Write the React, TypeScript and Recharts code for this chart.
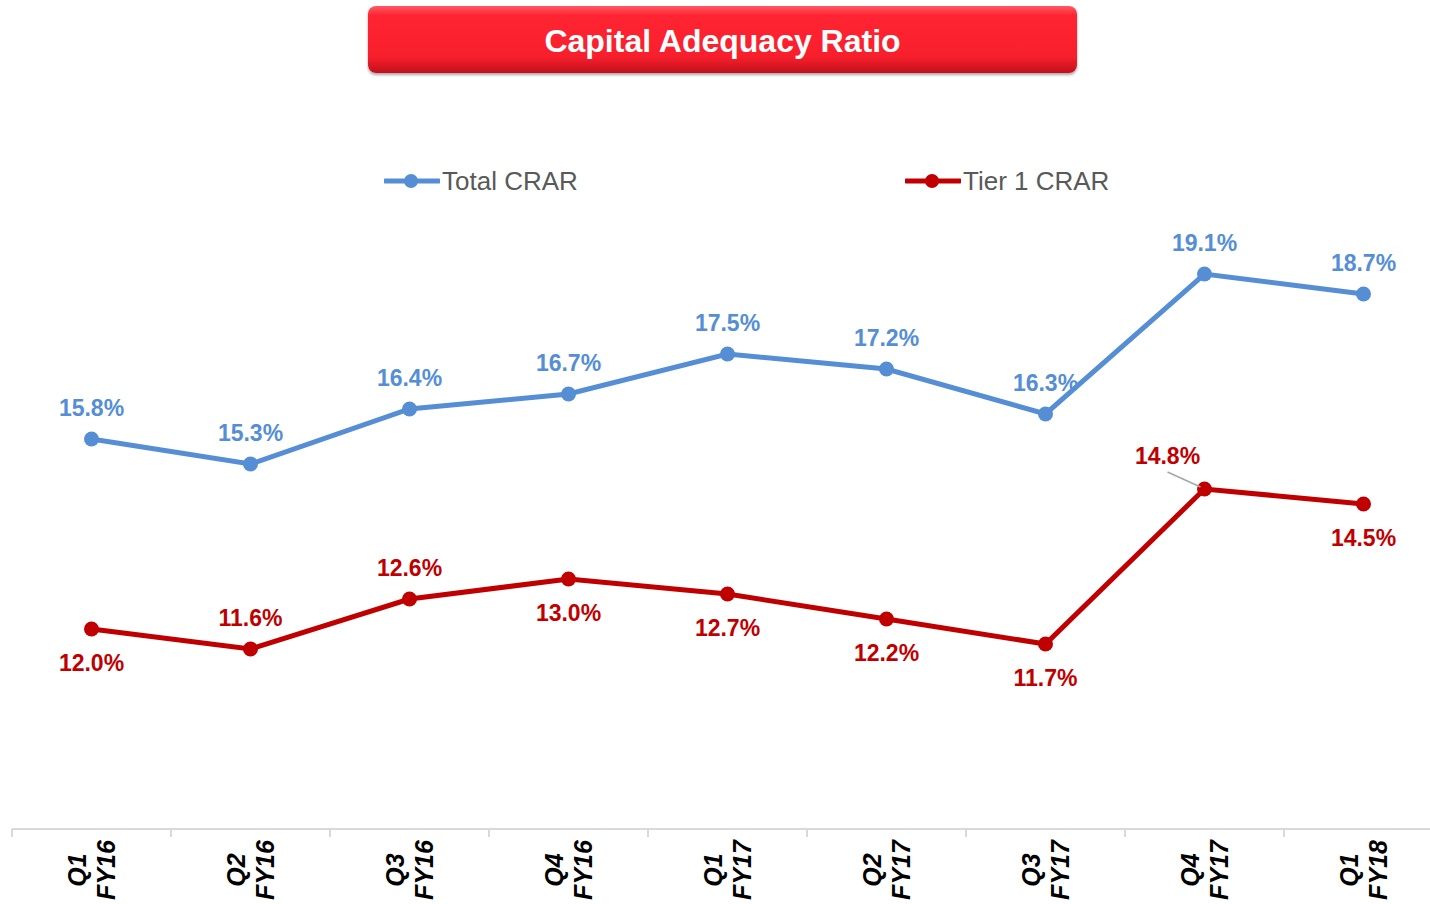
import { LineChart, Line, XAxis, YAxis, Legend, LabelList } from "recharts";

const quarters = ["Q1 FY16", "Q2 FY16", "Q3 FY16", "Q4 FY16", "Q1 FY17", "Q2 FY17", "Q3 FY17", "Q4 FY17", "Q1 FY18"];
const totalCrar = [15.8, 15.3, 16.4, 16.7, 17.5, 17.2, 16.3, 19.1, 18.7];
const tier1Crar = [12.0, 11.6, 12.6, 13.0, 12.7, 12.2, 11.7, 14.8, 14.5];
// where each Tier 1 label sits relative to its point
const tier1LabelPos = ["below", "above", "above", "below", "below", "below", "below", "aboveLeft", "below"];
const seriesNames = ["Total CRAR", "Tier 1 CRAR"];

const BLUE = "#558ED5";
const RED = "#C00000";
const FONT = '"Liberation Sans", Arial, sans-serif';
const HALF_BAND = 79.5;

const data = quarters.map((q, i) => ({ name: q, total: totalCrar[i], tier1: tier1Crar[i] }));

function QuarterTick(props: any) {
  const { x, y, payload, index, visibleTicksCount } = props;
  const [q, fy] = String(payload.value).split(" ");
  const last = index === visibleTicksCount - 1;
  const txt = { textAnchor: "middle" as const, dominantBaseline: "central" as const, fontFamily: FONT, fontSize: 25, fontWeight: "bold", fontStyle: "italic", fill: "#000" };
  return (
    <g>
      <line x1={x - HALF_BAND} x2={x - HALF_BAND} y1={y} y2={y + 8} stroke="#d9d9d9" strokeWidth={2} />
      {last && <line x1={x + HALF_BAND} x2={x + HALF_BAND} y1={y} y2={y + 8} stroke="#d9d9d9" strokeWidth={2} />}
      <g transform={`translate(${x},${y + 41}) rotate(-90)`}>
        <text x={0} y={-15} {...txt}>{q}</text>
        <text x={0} y={14} {...txt}>{fy}</text>
      </g>
    </g>
  );
}

function makeLabel(color: string, positions?: string[]) {
  return (props: any) => {
    const { x, y, value, index } = props;
    const pos = positions ? positions[index] : "above";
    const text = `${Number(value).toFixed(1)}%`;
    const common = {
      textAnchor: "middle" as const,
      dominantBaseline: "central" as const,
      fontFamily: FONT,
      fontSize: 23,
      fontWeight: "bold",
      fill: color,
    };
    if (pos === "aboveLeft") {
      return (
        <g>
          <line x1={x - 37} y1={y - 17} x2={x - 4} y2={y - 2} stroke="#a6a6a6" strokeWidth={1.5} />
          <text x={x - 37} y={y - 33} {...common}>{text}</text>
        </g>
      );
    }
    const dy = pos === "below" ? 34 : -31;
    return <text x={x} y={y + dy} {...common}>{text}</text>;
  };
}

const legendLeft = [384, 905];

function LegendContent(props: any) {
  const items = [...(props.payload || [])].sort(
    (a: any, b: any) => seriesNames.indexOf(a.value) - seriesNames.indexOf(b.value)
  );
  return (
    <div style={{ position: "relative", width: 1430, height: 40 }}>
      {items.map((entry: any, i: number) => (
        <div
          key={entry.value}
          style={{ position: "absolute", left: legendLeft[i], top: 0, height: 40, display: "flex", alignItems: "center" }}
        >
          <svg width={56} height={20}>
            <line x1={1} x2={55} y1={10} y2={10} stroke={entry.color} strokeWidth={5} strokeLinecap="round" />
            <circle cx={27} cy={10} r={7} fill={entry.color} />
          </svg>
          <span style={{ fontFamily: FONT, fontSize: 26, color: "#595959", marginLeft: 2, whiteSpace: "nowrap" }}>
            {entry.value}
          </span>
        </div>
      ))}
    </div>
  );
}

export default function App() {
  return (
    <div style={{ position: "absolute", left: 0, top: 0, width: 1430, height: 904, overflow: "hidden", background: "#fff" }}>
      <div
        style={{
          position: "absolute",
          left: 368,
          top: 6,
          width: 709,
          height: 67,
          borderRadius: 8,
          background: "linear-gradient(180deg, #ff5a64 0%, #ff2431 14%, #f81f2c 76%, #c0101c 100%)",
          boxShadow: "0 2px 3px rgba(0,0,0,0.35)",
          display: "flex",
          alignItems: "center",
          justifyContent: "center",
          paddingTop: 3,
          boxSizing: "border-box",
          color: "#fff",
          fontFamily: FONT,
          fontWeight: "bold",
          fontSize: 32,
          zIndex: 2,
        }}
      >
        Capital Adequacy Ratio
      </div>
      <LineChart width={1443} height={904} data={data} margin={{ top: 129, right: 0, bottom: 0, left: 12 }}>
        <YAxis hide domain={[8, 22]} />
        <XAxis
          dataKey="name"
          height={75}
          interval={0}
          padding={{ left: HALF_BAND, right: HALF_BAND }}
          axisLine={{ stroke: "#d9d9d9", strokeWidth: 2 }}
          tickLine={false}
          tickSize={0}
          tickMargin={0}
          tick={<QuarterTick />}
        />
        <Legend
          layout="horizontal"
          verticalAlign="middle"
          align="center"
          content={<LegendContent />}
          wrapperStyle={{ top: 161, left: 0, width: 1430 }}
        />
        <Line
          name="Total CRAR"
          dataKey="total"
          stroke={BLUE}
          strokeWidth={5}
          dot={{ r: 7.5, fill: BLUE, stroke: BLUE, strokeWidth: 0 }}
          activeDot={false}
          isAnimationActive={false}
        >
          <LabelList dataKey="total" content={makeLabel(BLUE)} />
        </Line>
        <Line
          name="Tier 1 CRAR"
          dataKey="tier1"
          stroke={RED}
          strokeWidth={5}
          dot={{ r: 7.5, fill: RED, stroke: RED, strokeWidth: 0 }}
          activeDot={false}
          isAnimationActive={false}
        >
          <LabelList dataKey="tier1" content={makeLabel(RED, tier1LabelPos)} />
        </Line>
      </LineChart>
    </div>
  );
}
